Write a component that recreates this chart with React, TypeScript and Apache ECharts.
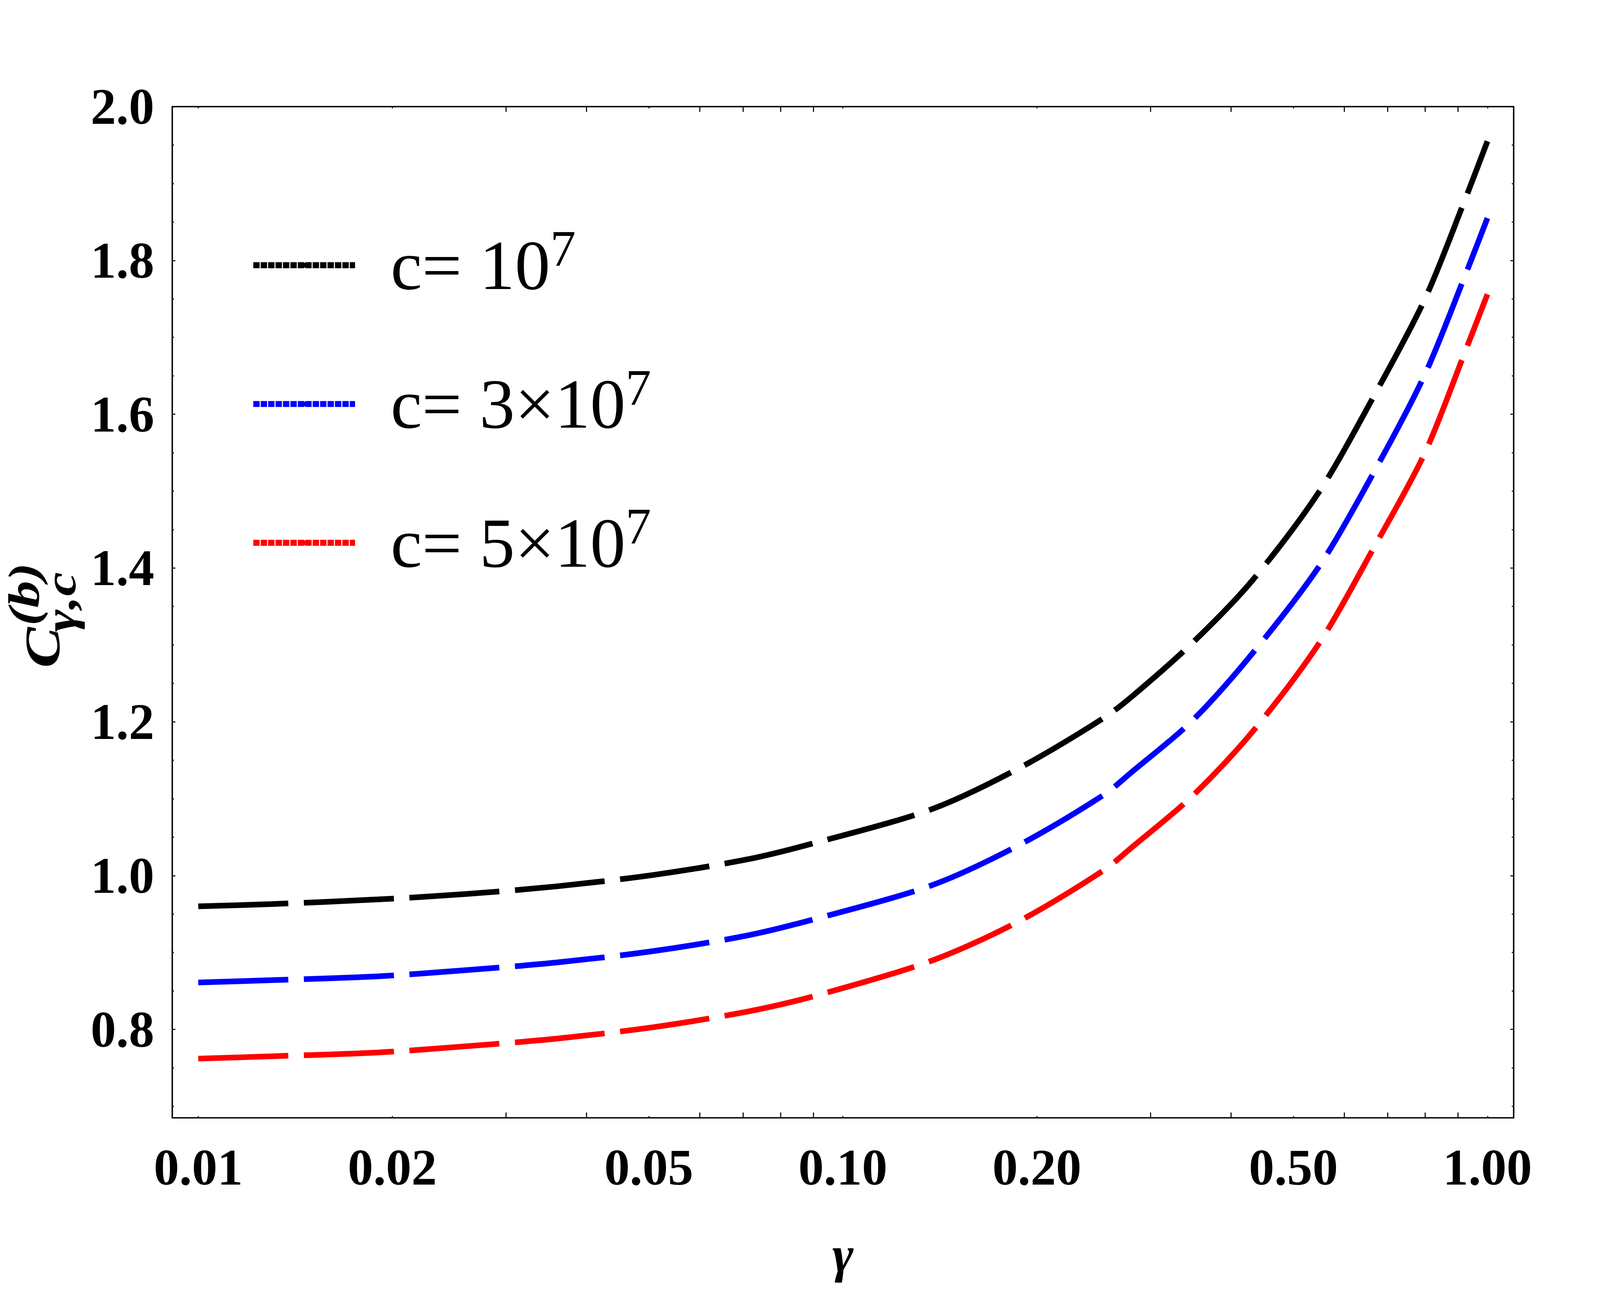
import React, { useEffect, useRef } from "react";
import * as echarts from "echarts";

// ---- data ----
const GAMMA = [0.01, 0.013, 0.019, 0.026, 0.036, 0.051, 0.071, 0.09, 0.137, 0.187, 0.254, 0.281, 0.348, 0.431, 0.549, 0.666, 0.799, 0.926, 1.0];
const C_1E7 = [0.960, 0.963, 0.969, 0.976, 0.986, 1.001, 1.021, 1.042, 1.086, 1.139, 1.205, 1.233, 1.302, 1.383, 1.500, 1.623, 1.749, 1.882, 1.955];
const C_3E7 = [0.861, 0.864, 0.869, 0.877, 0.887, 0.902, 0.922, 0.943, 0.987, 1.039, 1.105, 1.135, 1.201, 1.288, 1.403, 1.524, 1.651, 1.783, 1.855];
const C_5E7 = [0.762, 0.765, 0.770, 0.778, 0.788, 0.803, 0.823, 0.843, 0.889, 0.940, 1.007, 1.037, 1.103, 1.186, 1.303, 1.426, 1.549, 1.684, 1.756];

const SERIES_NAMES = ["c= 10^7", "c= 3×10^7", "c= 5×10^7"];
const LEGEND_MAIN = ["c= 10", "c= 3×10", "c= 5×10"];
const LEGEND_SUP = ["7", "7", "7"];
const SERIES_COLORS = ["#000000", "#0000ff", "#ff0000"];

const XTICK_VALUES = [0.01, 0.02, 0.05, 0.1, 0.2, 0.5, 1.0];
const XTICK_LABELS = ["0.01", "0.02", "0.05", "0.10", "0.20", "0.50", "1.00"];
const XMINOR_VALUES = [0.03, 0.04, 0.06, 0.07, 0.08, 0.09, 0.3, 0.4, 0.6, 0.7, 0.8, 0.9];
const YTICK_VALUES = [0.8, 1.0, 1.2, 1.4, 1.6, 1.8, 2.0];
const YTICK_LABELS = ["0.8", "1.0", "1.2", "1.4", "1.6", "1.8", "2.0"];
const YMINOR_VALUES = [0.7, 0.75, 0.85, 0.9, 0.95, 1.05, 1.1, 1.15, 1.25, 1.3, 1.35, 1.45, 1.5, 1.55, 1.65, 1.7, 1.75, 1.85, 1.9, 1.95];

const X_MIN_GAMMA = 0.00911;
const X_MAX_GAMMA = 1.098;
const Y_MIN = 0.685;
const Y_MAX = 2.0;

const FONT = '"Liberation Serif", "Times New Roman", serif';
const REF_W = 5000;
const REF_H = 3308;

export default function App() {
  const ref = useRef<HTMLDivElement>(null);

  useEffect(() => {
    if (!ref.current) return;
    const chart = echarts.init(ref.current, undefined, { renderer: "svg" });
    const W = chart.getWidth();
    const H = chart.getHeight();
    const sx = W / REF_W;
    const sy = H / REF_H;
    const sf = Math.sqrt(sx * sy);
    const X = (v: number) => v * sx;
    const Y = (v: number) => v * sy;
    const F = (v: number) => v * sf;

    const lg = (v: number) => Math.log10(v);
    const xmin = lg(X_MIN_GAMMA);
    const xmax = lg(X_MAX_GAMMA);
    const grid = { left: X(538), top: Y(273), width: X(4192), height: Y(2589) };
    const frame = { show: true, onZero: false, lineStyle: { color: "#000", width: F(4) } };
    const noLine = { show: false, onZero: false };
    const tickStyle = { color: "#000", width: F(3) };
    const labelFont = { fontFamily: FONT, fontWeight: "bold" as const, fontSize: F(144), color: "#000" };

    const xBase = { type: "value" as const, min: xmin, max: xmax, splitLine: { show: false } };
    const yBase = { type: "value" as const, min: Y_MIN, max: Y_MAX, splitLine: { show: false } };

    const xLabelFormatter = (v: number) => {
      const i = XTICK_VALUES.findIndex((t) => Math.abs(lg(t) - v) < 1e-6);
      return i >= 0 ? XTICK_LABELS[i] : "";
    };
    const yLabelFormatter = (v: number) => {
      const i = YTICK_VALUES.findIndex((t) => Math.abs(t - v) < 1e-6);
      return i >= 0 ? YTICK_LABELS[i] : "";
    };

    const rich: any = {
      m: { fontFamily: FONT, fontSize: F(200), lineHeight: F(240), color: "#000" },
      s: { fontFamily: FONT, fontSize: F(145), lineHeight: F(130), verticalAlign: "top", color: "#000" },
    };
    // y-axis title pieces, in reference pixel units (the group is scaled to the page)
    const txt = (text: string, x: number, y: number, size: number) => ({
      type: "text",
      x,
      y,
      style: {
        text,
        font: `italic bold ${size}px ${FONT}`,
        fill: "#000",
        align: "left",
        textAlign: "left",
        verticalAlign: "middle",
        textVerticalAlign: "middle",
      },
    });

    const option: any = {
      animation: false,
      backgroundColor: "#ffffff",
      grid: [grid, { ...grid }],
      xAxis: [
        {
          ...xBase,
          gridIndex: 0,
          position: "bottom",
          axisLine: frame,
          axisTick: { show: true, inside: true, length: F(5), lineStyle: tickStyle, customValues: XTICK_VALUES.map(lg) },
          axisLabel: { show: true, margin: Y(62), customValues: XTICK_VALUES.map(lg), formatter: xLabelFormatter, ...labelFont },
          name: "γ",
          nameLocation: "middle",
          nameGap: Y(285),
          nameTextStyle: { fontFamily: FONT, fontWeight: "bold", fontStyle: "italic", fontSize: F(144), color: "#000" },
        },
        {
          ...xBase,
          gridIndex: 0,
          position: "top",
          axisLine: frame,
          axisTick: { show: true, inside: true, length: F(5), lineStyle: tickStyle, customValues: XTICK_VALUES.map(lg) },
          axisLabel: { show: false },
        },
        {
          ...xBase,
          gridIndex: 1,
          position: "bottom",
          axisLine: noLine,
          axisTick: { show: true, inside: true, length: F(15), lineStyle: tickStyle, customValues: XMINOR_VALUES.map(lg) },
          axisLabel: { show: false },
        },
        {
          ...xBase,
          gridIndex: 1,
          position: "top",
          axisLine: noLine,
          axisTick: { show: true, inside: true, length: F(15), lineStyle: tickStyle, customValues: XMINOR_VALUES.map(lg) },
          axisLabel: { show: false },
        },
      ],
      yAxis: [
        {
          ...yBase,
          gridIndex: 0,
          position: "left",
          axisLine: frame,
          axisTick: { show: true, inside: true, length: F(9), lineStyle: tickStyle, customValues: YTICK_VALUES },
          axisLabel: { show: true, margin: X(56), customValues: YTICK_VALUES, formatter: yLabelFormatter, ...labelFont },
        },
        {
          ...yBase,
          gridIndex: 0,
          position: "right",
          axisLine: frame,
          axisTick: { show: true, inside: true, length: F(9), lineStyle: tickStyle, customValues: YTICK_VALUES },
          axisLabel: { show: false },
        },
        {
          ...yBase,
          gridIndex: 1,
          position: "left",
          axisLine: noLine,
          axisTick: { show: true, inside: true, length: F(5), lineStyle: tickStyle, customValues: YMINOR_VALUES },
          axisLabel: { show: false },
        },
        {
          ...yBase,
          gridIndex: 1,
          position: "right",
          axisLine: noLine,
          axisTick: { show: true, inside: true, length: F(5), lineStyle: tickStyle, customValues: YMINOR_VALUES },
          axisLabel: { show: false },
        },
      ],
      legend: {
        orient: "vertical",
        left: X(776),
        top: Y(674) - F(120),
        itemWidth: X(318),
        itemHeight: F(17),
        itemGap: Y(373.5) - F(240),
        selectedMode: false,
        data: SERIES_NAMES.map((n) => ({ name: n })),
        lineStyle: { type: [F(18), F(3)], width: F(17) },
        textStyle: { fontFamily: FONT, fontSize: F(200), color: "#000", padding: [0, 0, 0, X(105)], rich },
        formatter: (name: string) => {
          const i = SERIES_NAMES.indexOf(name);
          return `{m|${LEGEND_MAIN[i]}}{s|${LEGEND_SUP[i]}}`;
        },
      },
      series: [C_1E7, C_3E7, C_5E7].map((vals, k) => ({
        name: SERIES_NAMES[k],
        type: "line",
        xAxisIndex: 0,
        yAxisIndex: 0,
        data: GAMMA.map((g, i) => [lg(g), vals[i]]),
        symbol: "none",
        smooth: 0.3,
        color: SERIES_COLORS[k],
        lineStyle: { color: SERIES_COLORS[k], width: F(16), type: [F(255), F(44)], cap: "butt" },
      })),
      graphic: [
        {
          type: "group",
          x: X(186),
          y: Y(1710),
          rotation: Math.PI / 2,
          scaleX: sy,
          scaleY: sx,
          children: [txt("C", 0, -52.6, 156), txt("(b)", 108, -111.6, 138), txt("γ,c", 92, 3.4, 138)],
        },
      ],
    };

    chart.setOption(option);
    return () => chart.dispose();
  }, []);

  return <div ref={ref} style={{ position: "fixed", left: 0, top: 0, width: "100vw", height: "100vh", background: "#fff" }} />;
}
